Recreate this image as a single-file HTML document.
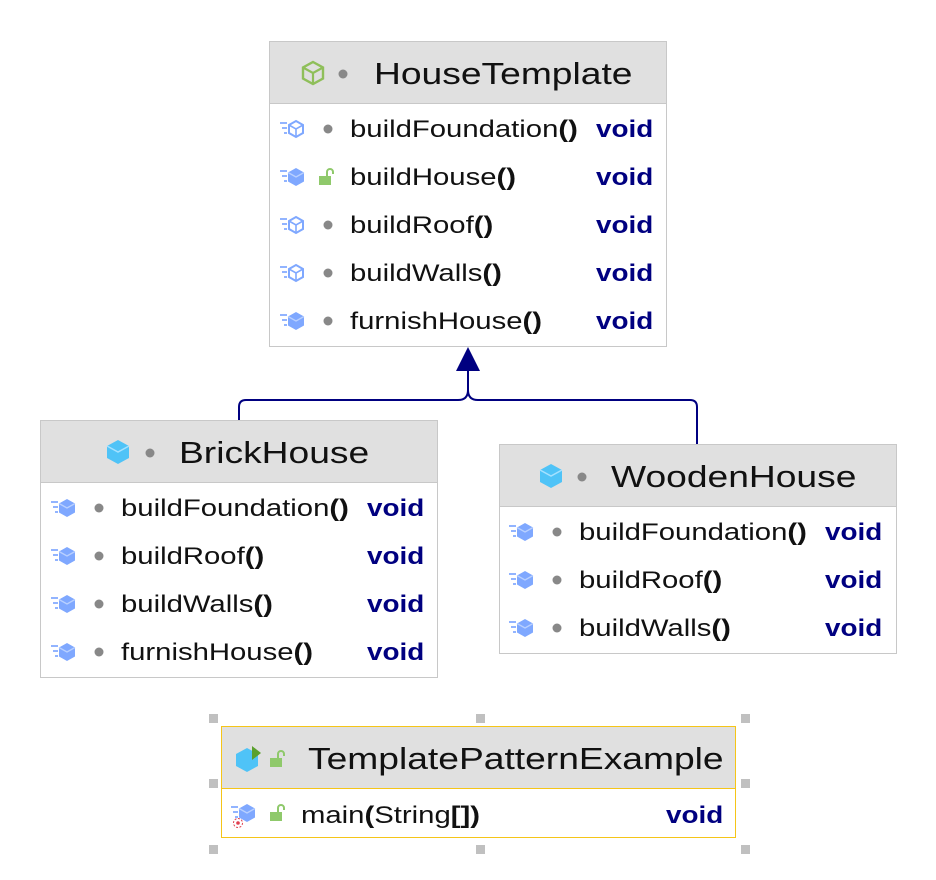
<!DOCTYPE html>
<html><head><meta charset="utf-8"><style>
body{margin:0;width:936px;height:880px;background:#fff;position:relative;overflow:hidden;font-family:"Liberation Sans",sans-serif;}
.box{position:absolute;border:1px solid #c8c8c8;background:#fff;}
.hd{position:absolute;left:0;right:0;top:0;height:61px;background:#e0e0e0;border-bottom:1px solid #c8c8c8;}
.t{position:absolute;font-size:31px;color:#111;white-space:nowrap;line-height:1;transform:scaleX(1.2);transform-origin:0 0;}
.r{position:absolute;font-size:24px;color:#111;white-space:nowrap;line-height:1;transform:scaleX(1.22);transform-origin:0 0;}
.v{position:absolute;font-size:24px;color:#000080;font-weight:bold;line-height:1;transform:scaleX(1.16);transform-origin:0 0;}
b{font-weight:bold}
.ic{position:absolute;}
.h{position:absolute;width:9px;height:9px;background:#c0c0c0;}
</style></head><body>

<svg width="936" height="880" style="position:absolute;left:0;top:0">
<defs>
<g id="m"><path d="M0 -6h7M2 -1h5M4 4h3" stroke="#6e9cff" stroke-width="1.6"/><path d="M16 -9l8 4.5v9l-8 4.5l-8 -4.5v-9z" fill="#7fa8ff"/><path d="M8 -4.5l8 4.5l8 -4.5" stroke="#b9d0ff" fill="none" stroke-width="1.3"/></g>
<g id="ma"><path d="M0 -6h7M2 -1h5M4 4h3" stroke="#6e9cff" stroke-width="1.6"/><path d="M16 -8l7 4v8l-7 4l-7 -4v-8z" fill="none" stroke="#7fa8ff" stroke-width="2"/><path d="M9 -4l7 4l7 -4M16 0v8" stroke="#7fa8ff" fill="none" stroke-width="1.6"/></g>
<g id="lock"><rect x="0" y="-3" width="12" height="9" fill="#8fc96b"/><path d="M8 -3v-4a3 3 0 0 1 6 0v2" stroke="#8fc96b" stroke-width="2" fill="none"/></g>
</defs>
<path d="M239 421V407q0-7 7-7H458q10 0 10-10V368M697 445V407q0-7-7-7H478q-10 0-10-10" stroke="#000080" stroke-width="2" fill="none"/>
<path d="M468 347L456 371H480z" fill="#000080"/>
</svg>

<!-- HouseTemplate -->
<div class="box" style="left:269px;top:41px;width:396px;height:304px">
<div class="hd"></div>
<svg class="ic" style="left:30px;top:18px" width="26" height="26"><path d="M13 2l10 5.5v11l-10 5.5l-10-5.5v-11z" fill="none" stroke="#8fbf5a" stroke-width="2.4"/><path d="M3 7.5l10 5.5l10-5.5M13 13v11" stroke="#8fbf5a" stroke-width="2.2" fill="none"/></svg>
<svg class="ic" style="left:68px;top:27px" width="10" height="10"><circle cx="5" cy="5" r="4.5" fill="#888"/></svg>
<div class="t" style="left:104px;top:16px">HouseTemplate</div>
</div>
<svg class="ic" style="left:278px;top:105px" width="70" height="240">
<use href="#ma" transform="translate(2,24)"/><circle cx="50" cy="24" r="4.5" fill="#888"/>
<use href="#m" transform="translate(2,72)"/><use href="#lock" transform="translate(41,74)"/>
<use href="#ma" transform="translate(2,120)"/><circle cx="50" cy="120" r="4.5" fill="#888"/>
<use href="#ma" transform="translate(2,168)"/><circle cx="50" cy="168" r="4.5" fill="#888"/>
<use href="#m" transform="translate(2,216)"/><circle cx="50" cy="216" r="4.5" fill="#888"/>
</svg>
<div class="r" style="left:350px;top:118px">buildFoundation<b>()</b></div><div class="v" style="left:596px;top:118px">void</div>
<div class="r" style="left:350px;top:166px">buildHouse<b>()</b></div><div class="v" style="left:596px;top:166px">void</div>
<div class="r" style="left:350px;top:214px">buildRoof<b>()</b></div><div class="v" style="left:596px;top:214px">void</div>
<div class="r" style="left:350px;top:262px">buildWalls<b>()</b></div><div class="v" style="left:596px;top:262px">void</div>
<div class="r" style="left:350px;top:310px">furnishHouse<b>()</b></div><div class="v" style="left:596px;top:310px">void</div>

<!-- BrickHouse -->
<div class="box" style="left:40px;top:420px;width:396px;height:256px">
<div class="hd"></div>
<svg class="ic" style="left:64px;top:18px" width="26" height="26"><path d="M13 1l11 6v12l-11 6l-11-6v-12z" fill="#4fc3f7"/><path d="M2 7l11 6l11-6" stroke="#a5e1ff" fill="none" stroke-width="1.5"/></svg>
<svg class="ic" style="left:104px;top:27px" width="10" height="10"><circle cx="5" cy="5" r="4.5" fill="#888"/></svg>
<div class="t" style="left:138px;top:16px">BrickHouse</div>
</div>
<svg class="ic" style="left:49px;top:484px" width="70" height="190">
<use href="#m" transform="translate(2,24)"/><circle cx="50" cy="24" r="4.5" fill="#888"/>
<use href="#m" transform="translate(2,72)"/><circle cx="50" cy="72" r="4.5" fill="#888"/>
<use href="#m" transform="translate(2,120)"/><circle cx="50" cy="120" r="4.5" fill="#888"/>
<use href="#m" transform="translate(2,168)"/><circle cx="50" cy="168" r="4.5" fill="#888"/>
</svg>
<div class="r" style="left:121px;top:497px">buildFoundation<b>()</b></div><div class="v" style="left:367px;top:497px">void</div>
<div class="r" style="left:121px;top:545px">buildRoof<b>()</b></div><div class="v" style="left:367px;top:545px">void</div>
<div class="r" style="left:121px;top:593px">buildWalls<b>()</b></div><div class="v" style="left:367px;top:593px">void</div>
<div class="r" style="left:121px;top:641px">furnishHouse<b>()</b></div><div class="v" style="left:367px;top:641px">void</div>

<!-- WoodenHouse -->
<div class="box" style="left:499px;top:444px;width:396px;height:208px">
<div class="hd"></div>
<svg class="ic" style="left:38px;top:18px" width="26" height="26"><path d="M13 1l11 6v12l-11 6l-11-6v-12z" fill="#4fc3f7"/><path d="M2 7l11 6l11-6" stroke="#a5e1ff" fill="none" stroke-width="1.5"/></svg>
<svg class="ic" style="left:77px;top:27px" width="10" height="10"><circle cx="5" cy="5" r="4.5" fill="#888"/></svg>
<div class="t" style="left:111px;top:16px">WoodenHouse</div>
</div>
<svg class="ic" style="left:507px;top:508px" width="70" height="140">
<use href="#m" transform="translate(2,24)"/><circle cx="50" cy="24" r="4.5" fill="#888"/>
<use href="#m" transform="translate(2,72)"/><circle cx="50" cy="72" r="4.5" fill="#888"/>
<use href="#m" transform="translate(2,120)"/><circle cx="50" cy="120" r="4.5" fill="#888"/>
</svg>
<div class="r" style="left:579px;top:521px">buildFoundation<b>()</b></div><div class="v" style="left:825px;top:521px">void</div>
<div class="r" style="left:579px;top:569px">buildRoof<b>()</b></div><div class="v" style="left:825px;top:569px">void</div>
<div class="r" style="left:579px;top:617px">buildWalls<b>()</b></div><div class="v" style="left:825px;top:617px">void</div>

<!-- TemplatePatternExample -->
<div class="box" style="left:221px;top:726px;width:513px;height:110px;border:1.5px solid #f5c518">
<div class="hd" style="border-bottom:1.5px solid #f5c518"></div>
<svg class="ic" style="left:12px;top:18px" width="30" height="28"><path d="M13 3l11 6v12l-11 6l-11-6v-12z" fill="#4fc3f7"/><path d="M18 1v14l9-7z" fill="#5aa02c"/></svg>
<svg class="ic" style="left:46px;top:22px" width="20" height="22"><use href="#lock" transform="translate(2,12)"/></svg>
<div class="t" style="left:86px;top:16px">TemplatePatternExample</div>
</div>
<svg class="ic" style="left:229px;top:791px" width="70" height="45">
<use href="#m" transform="translate(2,22)"/><circle cx="9" cy="32" r="4.5" fill="none" stroke="#e04050" stroke-dasharray="2 1.5"/><circle cx="9" cy="32" r="1.8" fill="#e04050"/><use href="#lock" transform="translate(41,24)"/>
</svg>
<div class="r" style="left:301px;top:804px">main<b>(</b>String<b>[])</b></div><div class="v" style="left:666px;top:804px">void</div>

<div class="h" style="left:209px;top:714px"></div><div class="h" style="left:476px;top:714px"></div><div class="h" style="left:741px;top:714px"></div>
<div class="h" style="left:209px;top:779px"></div><div class="h" style="left:741px;top:779px"></div>
<div class="h" style="left:209px;top:845px"></div><div class="h" style="left:476px;top:845px"></div><div class="h" style="left:741px;top:845px"></div>
</body></html>
